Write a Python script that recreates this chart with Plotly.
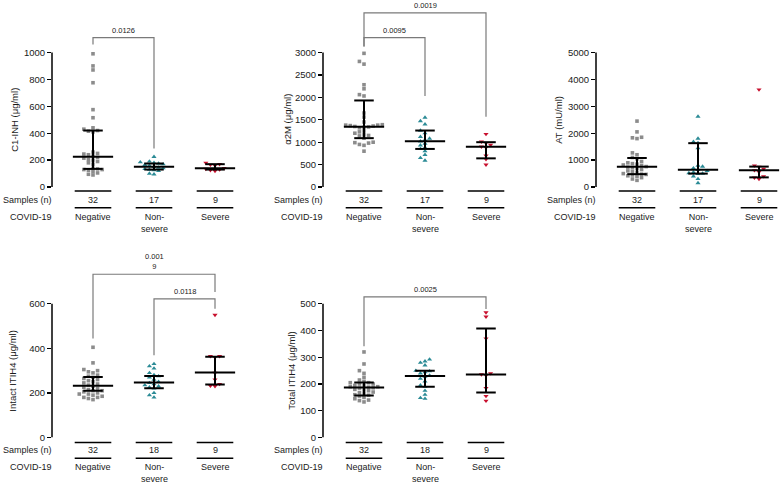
import numpy as np
import plotly.graph_objects as go

# ---------------- data ----------------
group_labels = ["Negative", "Non-<br>severe", "Severe"]
samples_top = [32, 17, 9]
samples_bottom = [32, 18, 9]

c1inh_negative = [990, 900, 870, 775, 575, 515, 440, 430, 420, 415, 410, 260, 250, 245, 240, 230,
                  220, 215, 205, 200, 190, 180, 170, 140, 135, 130, 130, 125, 115, 105, 95, 90]
c1inh_nonsevere = [225, 190, 185, 180, 175, 170, 165, 160, 150, 145, 140, 135, 130, 125, 120, 100, 95]
c1inh_severe = [180, 170, 165, 160, 140, 135, 130, 125, 120]
c1inh_median = [225, 150, 140]
c1inh_q1 = [135, 130, 130]
c1inh_q3 = [420, 175, 170]

a2m_negative = [2980, 2800, 2740, 2280, 2190, 2060, 2030, 1650, 1560, 1450, 1390, 1380, 1380, 1370, 1360, 1350,
                1340, 1330, 1320, 1250, 1230, 1200, 1170, 1150, 1140, 1090, 1000, 990, 980, 950, 930, 800]
a2m_nonsevere = [1550, 1470, 1400, 1260, 1200, 1120, 1080, 1050, 1020, 970, 930, 880, 850, 800, 720, 650, 590]
a2m_severe = [1180, 1010, 980, 940, 900, 880, 700, 620, 500]
a2m_median = [1345, 1020, 900]
a2m_q1 = [1090, 850, 640]
a2m_q3 = [1930, 1260, 1000]

at_negative = [2450, 2050, 1850, 1830, 1800, 1270, 1200, 1100, 1050, 950, 900, 870, 850, 820, 800, 760,
               740, 720, 700, 650, 600, 580, 550, 500, 480, 470, 450, 420, 400, 350, 300, 250]
at_nonsevere = [2620, 1800, 1680, 1640, 1450, 800, 760, 700, 640, 600, 550, 520, 500, 490, 400, 300, 150]
at_severe = [3620, 800, 750, 680, 620, 560, 400, 350, 300]
at_median = [750, 640, 620]
at_q1 = [480, 500, 360]
at_q3 = [1080, 1630, 760]

intact_negative = [405, 335, 305, 300, 295, 290, 280, 275, 270, 265, 260, 255, 250, 245, 240, 235,
                   230, 225, 220, 215, 210, 210, 205, 200, 195, 195, 190, 185, 180, 180, 175, 170]
intact_nonsevere = [330, 320, 310, 290, 280, 275, 270, 260, 250, 245, 240, 235, 230, 225, 220, 200, 190, 180]
intact_severe = [550, 365, 365, 360, 290, 260, 240, 232, 230]
intact_median = [232, 247, 292]
intact_q1 = [210, 221, 238]
intact_q3 = [272, 276, 362]

total_negative = [320, 275, 250, 240, 225, 215, 210, 205, 205, 200, 200, 195, 195, 190, 190, 188,
                  186, 185, 180, 178, 175, 170, 168, 165, 160, 158, 155, 150, 145, 140, 138, 133]
total_nonsevere = [292, 285, 280, 270, 250, 248, 245, 240, 232, 228, 220, 210, 195, 190, 175, 160, 148, 145]
total_severe = [468, 452, 370, 240, 236, 232, 185, 155, 137]
total_median = [187, 230, 236]
total_q1 = [157, 190, 168]
total_q3 = [206, 250, 408]

# significance brackets: (left group, right group, top, left end, right end, p label)
c1inh_brackets = [(0, 1, 1110, 1059, 287, "0.0126")]
a2m_brackets = [(0, 2, 3882, 3132, 1566, "0.0019"), (0, 1, 3331, 3132, 2029, "0.0095")]
at_brackets = []
intact_brackets = [(0, 2, 733, 444, 653, "0.001<br>9"), (1, 2, 622, 369, 578, "0.0118")]
total_brackets = [(0, 2, 526, 341, 481, "0.0025")]

# ---------------- style / layout ----------------
W, H = 780, 488
col_axis_px = [52, 323, 596]
dom_w_px = 184
unit_px = 61.0
first_off_px = 41
row_zero_px = [189, 442]
row_top_tick_px = [53, 307]
row_dom_top_px = [0, 245]
row_table_px = [dict(l1=193, num=202, l2=210, lab=219), dict(l1=447, num=455, l2=463, lab=472)]

colors = ["#8c8c8c", "#2b8b96", "#c8102e"]
symbols = ["square", "triangle-up", "triangle-down"]
msizes = [3.6, 4.5, 4.5]
font_family = "Liberation Sans, Arial, sans-serif"
txt_color = "#1a1a1a"

panels = [
    dict(row=0, col=0, ymax=1000, dtick=200, title="C1-INH (μg/ml)", tshift=-37,
         data=[c1inh_negative, c1inh_nonsevere, c1inh_severe], med=c1inh_median, q1=c1inh_q1, q3=c1inh_q3,
         br=c1inh_brackets, n=samples_top),
    dict(row=0, col=1, ymax=3000, dtick=500, title="α2M (μg/ml)", tshift=-35,
         data=[a2m_negative, a2m_nonsevere, a2m_severe], med=a2m_median, q1=a2m_q1, q3=a2m_q3,
         br=a2m_brackets, n=samples_top),
    dict(row=0, col=2, ymax=5000, dtick=1000, title="AT (mU/ml)", tshift=-37,
         data=[at_negative, at_nonsevere, at_severe], med=at_median, q1=at_q1, q3=at_q3,
         br=at_brackets, n=samples_top),
    dict(row=1, col=0, ymax=600, dtick=200, title="Intact ITIH4 (μg/ml)", tshift=-39,
         data=[intact_negative, intact_nonsevere, intact_severe], med=intact_median, q1=intact_q1, q3=intact_q3,
         br=intact_brackets, n=samples_bottom),
    dict(row=1, col=1, ymax=500, dtick=100, title="Total ITIH4 (μg/ml)", tshift=-31,
         data=[total_negative, total_nonsevere, total_severe], med=total_median, q1=total_q1, q3=total_q3,
         br=total_brackets, n=samples_bottom),
]


def pp(px):
    return 1 - px / H


def swarm(vals, px_per_unit, d=0.075, thr=3.4):
    vals = np.asarray(vals, dtype=float)
    order = np.argsort(vals)
    placed = []
    offs = np.zeros(len(vals))
    seq = [0]
    for m in range(1, 20):
        seq += [-m, m]
    for i in order:
        y = vals[i] * px_per_unit
        used = {o for (yy, o) in placed if abs(yy - y) < thr}
        for s in seq:
            if s not in used:
                break
        offs[i] = s * d
        placed.append((y, s))
    return offs


fig = go.Figure()
layout = dict(width=W, height=H, margin=dict(l=0, r=0, t=0, b=0), showlegend=False,
              paper_bgcolor="white", plot_bgcolor="white",
              font=dict(family=font_family, size=9, color=txt_color))
shapes = []
annotations = []

xr = [-first_off_px / unit_px, (dom_w_px - first_off_px) / unit_px]

for k, p in enumerate(panels):
    n = k + 1
    xa = "x" if n == 1 else f"x{n}"
    ya = "y" if n == 1 else f"y{n}"
    xkey = "xaxis" if n == 1 else f"xaxis{n}"
    ykey = "yaxis" if n == 1 else f"yaxis{n}"
    r, c = p["row"], p["col"]
    zero_px, top_px, dtop_px = row_zero_px[r], row_top_tick_px[r], row_dom_top_px[r]
    ytop = p["ymax"] * (zero_px - dtop_px) / (zero_px - top_px)
    ppu = (zero_px - top_px) / p["ymax"]

    layout[xkey] = dict(domain=[col_axis_px[c] / W, (col_axis_px[c] + dom_w_px) / W], range=xr,
                        visible=False, anchor=ya, fixedrange=True)
    layout[ykey] = dict(domain=[pp(zero_px), pp(dtop_px)], range=[0, ytop], anchor=xa, fixedrange=True,
                        tickvals=list(range(0, p["ymax"] + 1, p["dtick"])),
                        ticks="outside", ticklen=4, tickwidth=1.3, tickcolor="black",
                        showline=False, showgrid=False, zeroline=False,
                        tickfont=dict(size=9.5, color=txt_color, family=font_family))

    # points
    for g in range(3):
        vals = p["data"][g]
        offs = swarm(vals, ppu)
        fig.add_trace(go.Scatter(x=g + offs, y=vals, mode="markers", xaxis=xa, yaxis=ya,
                                 cliponaxis=False, hoverinfo="skip",
                                 marker=dict(symbol=symbols[g], size=msizes[g], color=colors[g],
                                             line=dict(width=0))))
    # median / IQR
    for g in range(3):
        med, lo, hi = p["med"][g], p["q1"][g], p["q3"][g]
        fig.add_trace(go.Scatter(
            x=[g - 0.33, g + 0.33, None, g - 0.16, g + 0.16, None, g - 0.16, g + 0.16, None, g, g],
            y=[med, med, None, hi, hi, None, lo, lo, None, lo, hi],
            mode="lines", xaxis=xa, yaxis=ya, cliponaxis=False, hoverinfo="skip",
            line=dict(color="black", width=2)))

    # axis line
    shapes.append(dict(type="line", xref=f"{xa} domain", x0=0, x1=0, yref=ya, y0=0, y1=p["ymax"],
                       line=dict(color="black", width=1.5)))
    # axis title
    annotations.append(dict(text=p["title"], textangle=-90, xref=f"{xa} domain", x=0, xshift=p["tshift"],
                            yref=ya, y=p["ymax"] / 2, showarrow=False, xanchor="center", yanchor="middle",
                            font=dict(size=9.5, color=txt_color)))
    # brackets
    for (gl, gr, yt, yl, yrr, lab) in p["br"]:
        shapes.append(dict(type="path", xref=xa, yref=ya,
                           path=f"M {gl} {yl} L {gl} {yt} L {gr} {yt} L {gr} {yrr}",
                           line=dict(color="#7a7a7a", width=1.2)))
        annotations.append(dict(text=lab, xref=xa, yref=ya, x=(gl + gr) / 2, y=yt, yanchor="bottom",
                                yshift=1, showarrow=False, font=dict(size=7.5, color=txt_color)))
    # table
    t = row_table_px[r]
    for g in range(3):
        for key in ("l1", "l2"):
            shapes.append(dict(type="line", xref=xa, yref="paper", x0=g - 0.3, x1=g + 0.3,
                               y0=pp(t[key]), y1=pp(t[key]), line=dict(color="black", width=1.5)))
        annotations.append(dict(text=str(p["n"][g]), xref=xa, yref="paper", x=g, y=pp(t["num"]),
                                yanchor="middle", showarrow=False, font=dict(size=9, color=txt_color)))
        annotations.append(dict(text=group_labels[g], xref=xa, yref="paper", x=g, y=pp(t["lab"] - 7),
                                yanchor="top", showarrow=False, font=dict(size=9, color=txt_color)))
    annotations.append(dict(text="Samples (n)", xref=f"{xa} domain", x=0, xshift=2, xanchor="right",
                            yref="paper", y=pp(t["num"]), yanchor="middle", showarrow=False,
                            font=dict(size=9, color=txt_color)))
    annotations.append(dict(text="COVID-19", xref=f"{xa} domain", x=0, xshift=2, xanchor="right",
                            yref="paper", y=pp(t["lab"]), yanchor="middle", showarrow=False,
                            font=dict(size=9, color=txt_color)))

layout["shapes"] = shapes
layout["annotations"] = annotations
fig.update_layout(**layout)
fig.write_html("out.html", config={"displayModeBar": False, "staticPlot": True},
               post_script="document.body.style.margin='0';document.body.style.padding='0';"
                           "document.body.style.overflow='hidden';")
